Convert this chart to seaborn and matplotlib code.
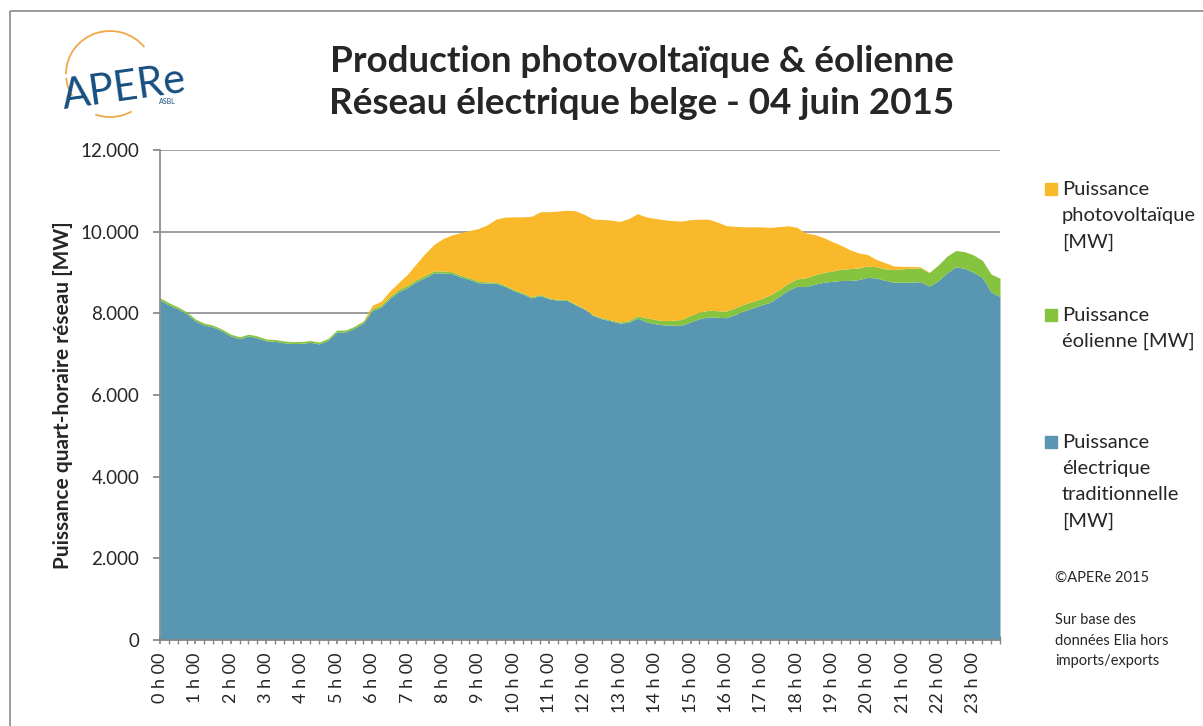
import numpy as np
import matplotlib
matplotlib.use("Agg")
import matplotlib.pyplot as plt
from matplotlib.patches import Arc, Rectangle
from matplotlib.ticker import FuncFormatter
import seaborn as sns

# ---------------- data (quarter-hour values, MW) ----------------
hours = [f"{h} h 00" for h in range(24)]

traditionnelle = [
    8325, 8205, 8110, 7990, 7810, 7715, 7665, 7570, 7445, 7380, 7445, 7400,
    7325, 7315, 7280, 7260, 7265, 7290, 7250, 7340, 7545, 7545, 7640, 7760,
    8070, 8150, 8370, 8530, 8635, 8775, 8880, 8990, 8990, 8975, 8890, 8830,
    8750, 8735, 8735, 8660, 8555, 8475, 8380, 8435, 8355, 8320, 8320, 8205,
    8100, 7940, 7865, 7815, 7760, 7780, 7885, 7790, 7745, 7715, 7710, 7705,
    7790, 7867, 7912, 7902, 7892, 7967, 8057, 8130, 8205, 8270, 8415, 8560,
    8660, 8655, 8710, 8760, 8782, 8805, 8805, 8825, 8880, 8865, 8810, 8760,
    8760, 8765, 8775, 8665, 8796, 8992, 9140, 9102, 9005, 8875, 8519, 8411,
]
eolienne = [
    55, 55, 50, 50, 50, 45, 45, 45, 45, 45, 45, 45,
    45, 45, 45, 45, 45, 45, 45, 45, 45, 45, 45, 50,
    50, 50, 50, 55, 55, 55, 55, 50, 50, 45, 45, 40,
    40, 35, 35, 30, 30, 30, 25, 25, 25, 20, 20, 20,
    20, 20, 25, 25, 30, 40, 57, 100, 105, 106, 120, 145,
    160, 163, 163, 163, 163, 163, 163, 160, 155, 180, 165, 170,
    180, 215, 230, 240, 253, 275, 290, 285, 280, 275, 280, 310,
    330, 340, 340, 335, 384, 408, 400, 408, 425, 425, 441, 449,
]
photovoltaique = [
    0, 0, 0, 0, 0, 0, 0, 0, 0, 0, 0, 0,
    0, 0, 0, 0, 0, 0, 0, 0, 0, 0, 0, 10,
    80, 95, 130, 175, 270, 390, 535, 650, 790, 900, 1040, 1160,
    1285, 1398, 1538, 1665, 1777, 1859, 1970, 2028, 2110, 2165, 2185, 2285,
    2300, 2350, 2410, 2445, 2460, 2500, 2500, 2470, 2475, 2470, 2440, 2410,
    2345, 2276, 2231, 2175, 2095, 2000, 1900, 1828, 1758, 1655, 1545, 1413,
    1270, 1100, 990, 860, 725, 590, 465, 370, 280, 180, 150, 90,
    60, 45, 25, 5, 0, 0, 0, 0, 0, 0, 0, 0,
]

col_trad = "#5896B2"
col_eol = "#86C440"
col_pv = "#FAB92A"

# ---------------- style ----------------
sns.set_theme(style="white")
plt.rcParams['font.family'] = ['Lato', 'DejaVu Sans']

fig = plt.figure(figsize=(12.03, 7.26), dpi=100)

# background axes in pixel units (logo, legend, notes, frame)
bg = fig.add_axes([0, 0, 1, 1], zorder=0)
bg.set_xlim(0, 1203)
bg.set_ylim(726, 0)
bg.axis("off")

ax = fig.add_axes([160 / 1203, 1 - 640 / 726, 840 / 1203, 490 / 726], zorder=2)

x = np.arange(len(traditionnelle))
ax.stackplot(x, traditionnelle, eolienne, photovoltaique,
             colors=[col_trad, col_eol, col_pv], linewidth=0)

ax.set_xlim(0, 95)
ax.set_ylim(0, 12000)
ax.set_yticks(range(0, 12001, 2000))
ax.yaxis.set_major_formatter(FuncFormatter(lambda v, p: f"{int(v):,}".replace(",", ".")))
ax.set_xticks(range(0, 96, 4))
ax.set_xticklabels(hours, rotation=90)
ax.set_xticks(range(0, 96), minor=True)
ax.grid(axis="y", color="#8c8c8c", linewidth=1.2, zorder=0)
ax.set_axisbelow(True)
for s in ["top", "right"]:
    ax.spines[s].set_visible(False)
for s in ["left", "bottom"]:
    ax.spines[s].set_color("#868686")
    ax.spines[s].set_linewidth(1.2)
ax.tick_params(axis="x", which="both", direction="inout", length=6, color="#868686",
               labelsize=13, pad=6, bottom=True)
ax.tick_params(axis="y", direction="out", length=5, color="#868686", labelsize=13.5,
               left=True, pad=10)
ax.set_ylabel("Puissance quart-horaire réseau [MW]", fontsize=15, fontweight="bold",
              labelpad=5)

# title
bg.text(642, 62, "Production photovoltaïque & éolienne", ha="center", va="center",
        fontsize=26.5, fontweight="bold")
bg.text(642, 104, "Réseau électrique belge - 04 juin 2015", ha="center", va="center",
        fontsize=26.5, fontweight="bold")

# logo
bg.add_patch(Arc((110, 74), 88, 86, theta1=-180, theta2=-38, color="#F0A848", lw=1.3))
bg.add_patch(Arc((110, 74), 88, 86, theta1=60, theta2=110, color="#F0A848", lw=1.3))
bg.add_patch(Arc((110, 74), 88, 86, theta1=150, theta2=175, color="#F0A848", lw=1.3))
bg.text(124, 88, "APERe", ha="center", va="center", fontsize=30, color="#174F80",
        rotation=8)
bg.text(167, 102, "ASBL", ha="center", va="center", fontsize=5, color="#174F80")

# legend
leg = [
    (col_pv, 181, "Puissance\nphotovoltaïque\n[MW]"),
    (col_eol, 307, "Puissance\néolienne [MW]"),
    (col_trad, 434, "Puissance\nélectrique\ntraditionnelle\n[MW]"),
]
for c, y0, lab in leg:
    bg.add_patch(Rectangle((1045, y0 + 2), 12, 12, color=c))
    bg.text(1062, y0, lab, ha="left", va="top", fontsize=14.5, linespacing=1.65)

bg.text(1055, 578, "©APERe 2015", ha="left", va="center", fontsize=10.5)
bg.text(1055, 613, "Sur base des\ndonnées Elia hors\nimports/exports", ha="left",
        va="top", fontsize=10.5, linespacing=1.6)

# outer frame
bg.add_patch(Rectangle((10, 11), 1300, 800, fill=False, edgecolor="#8a8a8a", lw=1.2))

fig.savefig("out.png", dpi=100)
